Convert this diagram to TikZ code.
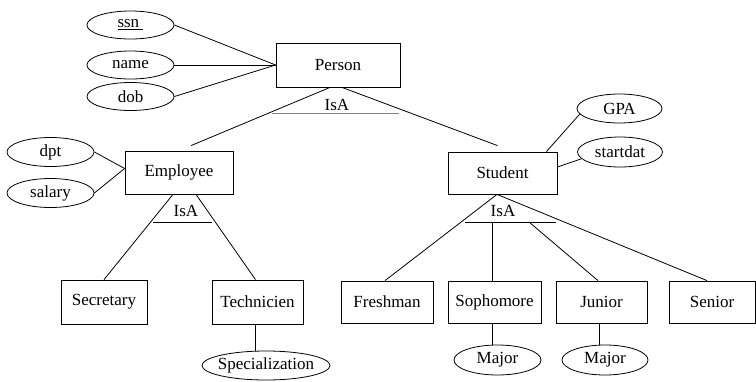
\documentclass[tikz,border=0pt]{standalone}
\usepackage{fontspec}
\setmainfont{Liberation Serif}
\usetikzlibrary{shapes.geometric}

\begin{document}
\begin{tikzpicture}[x=1pt, y=-1pt, line width=0.8pt,
        font=\fontsize{17}{19}\selectfont,
        entity/.style={rectangle, draw, minimum height=43pt, inner sep=0pt},
        attr/.style={ellipse, draw, minimum width=87pt, minimum height=29pt, inner sep=0pt},
        isa/.style={inner sep=0pt}]
            \useasboundingbox (0,0) rectangle (756,381);

            % entities
            \node[entity, minimum width=124pt, minimum height=44pt] (person) at (338,65) {Person};
            \node[entity, minimum width=108pt] (emp) at (179,172.5) {Employee};
            \node[entity, minimum width=109pt, minimum height=42pt] (stud) at (502.5,173) {Student};
            \node[entity, minimum width=86pt, minimum height=44pt] (sec) at (104,302) {Secretary};
            \node[entity, minimum width=91pt, minimum height=44pt] (tech) at (257.5,302) {Technicien};
            \node[entity, minimum width=92pt, minimum height=42pt] (fresh) at (387,302) {Freshman};
            \node[entity, minimum width=93pt, minimum height=42pt] (soph) at (494.5,302) {Sophomore};
            \node[entity, minimum width=91pt, minimum height=42pt] (junior) at (601.5,302) {Junior};
            \node[entity, minimum width=86pt, minimum height=42pt] (senior) at (712,302) {Senior};

            % attributes
            \node[attr, minimum height=28pt] (ssn) at (130.5,25) {\underline{ssn\ }};
            \node[attr, minimum height=28pt] (name) at (130.5,65) {name};
            \node[attr, minimum height=28pt] (dob) at (130.5,96.5) {dob};
            \node[attr] (dpt) at (50.5,152) {dpt};
            \node[attr] (salary) at (50.5,193) {salary};
            \node[attr, minimum width=85pt] (gpa) at (619.5,108.5) {GPA};
            \node[attr, minimum width=85pt, minimum height=30pt] (start) at (620,152) {startdat};
            \node[attr, minimum width=128pt, inner xsep=-5pt] (spec) at (266,365.5) {Specialization};
            \node[attr, minimum height=30pt] (maj1) at (497.5,360) {Major};
            \node[attr, minimum width=86pt, minimum height=30pt] (maj2) at (605,360) {Major};

            % IsA labels
            \node[isa] (isaP) at (337,105) {IsA};
            \node[isa] (isaE) at (186,211) {IsA};
            \node[isa] (isaS) at (503,211) {IsA};

            \draw[gray] ([xshift=-65pt,yshift=-8pt]isaP.center) -- ([xshift=62pt,yshift=-8pt]isaP.center);
            \draw ([xshift=-33pt,yshift=-11pt]isaE.center) -- ([xshift=26pt,yshift=-11pt]isaE.center);
            \draw ([xshift=-38pt,yshift=-11pt]isaS.center) -- ([xshift=53pt,yshift=-11pt]isaS.center);

            % attribute links
            \draw (ssn.east) -- (person.west);
            \draw (name.east) -- (person.west);
            \draw (dob.east) -- (person.west);
            \draw (dpt.east) -- ([yshift=4pt]emp.west);
            \draw (salary.east) -- ([yshift=4pt]emp.west);
            \draw ([xshift=-11pt]stud.north east) -- (gpa.188);
            \draw ([yshift=6pt]stud.east) -- (start.190);
            \draw ([xshift=-2.5pt]tech.south) -- ([xshift=-2.5pt]tech.south |- spec.north);
            \draw ([xshift=-2.5pt]soph.south) -- ([xshift=-2.5pt]soph.south |- maj1.north);
            \draw ([xshift=-2.5pt]junior.south) -- ([xshift=-2.5pt]junior.south |- maj2.north);

            % hierarchy
            \draw ([xshift=-8pt]person.south) -- ([xshift=12pt,yshift=5pt]emp.north);
            \draw ([xshift=4pt]person.south) -- ([xshift=-5pt,yshift=6pt]stud.north);
            \draw ([xshift=-6pt]emp.south) -- (sec.north);
            \draw ([xshift=17pt]emp.south) -- ([xshift=-2pt]tech.north);
            \draw ([xshift=-5.5pt]stud.south) -- ([xshift=-2pt]fresh.north);
            \draw ([xshift=-5.5pt]stud.south) -- ([xshift=-5pt]senior.north);
            \draw ([xshift=-11pt,yshift=-11pt]isaS.center) -- ([xshift=-2.5pt]soph.north);
            \draw ([xshift=26pt,yshift=-11pt]isaS.center) -- ([xshift=-3.5pt]junior.north);
\end{tikzpicture}
\end{document}
